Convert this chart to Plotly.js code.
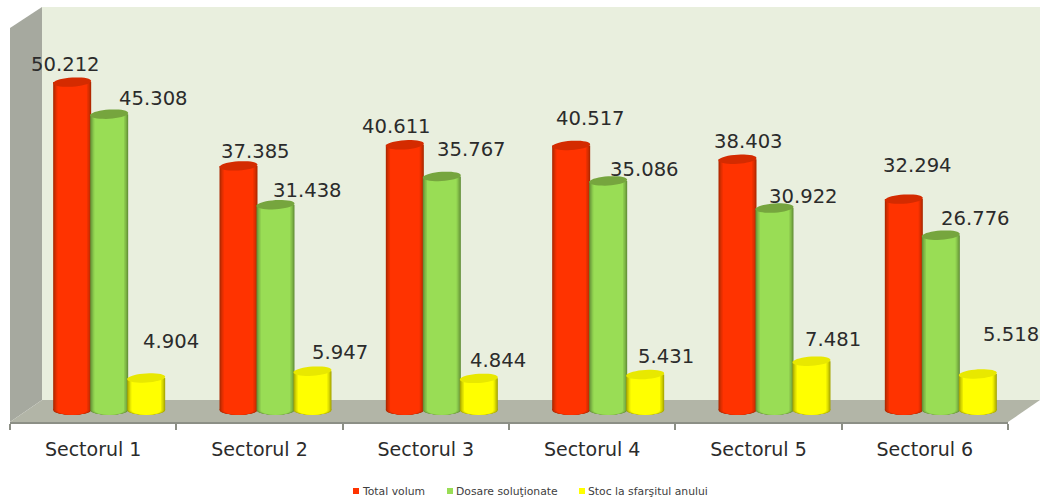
<!DOCTYPE html>
<html><head><meta charset="utf-8">
<script src="https://cdn.plot.ly/plotly-3.0.1.min.js"></script>
<style>html,body{margin:0;padding:0;background:#fff}#c{width:1048px;height:498px}</style>
</head><body><div id="c"></div>
<script>
const categories = ["Sectorul 1","Sectorul 2","Sectorul 3","Sectorul 4","Sectorul 5","Sectorul 6"];
const totalVolum = [50.212,37.385,40.611,40.517,38.403,32.294];
const dosareSolutionate = [45.308,31.438,35.767,35.086,30.922,26.776];
const stocSfarsit = [4.904,5.947,4.844,5.431,7.481,5.518];
const seriesNames = ["Total volum","Dosare soluţionate","Stoc la sfarşitul anului"];

// label nudges in px relative to each bar top: [right, up]
const labelNudgeTotal = [[-7,18],[17,14],[-8,18],[19,27],[11,18],[14,34]];
const labelNudgeDosare = [[44,16],[32,14],[30,27],[36,11],[29,12],[35,17]];
const labelNudgeStoc = [[25,36],[27,19],[19,18],[21,18],[21,22],[33,39]];

const W=1048,H=498,L=10,R=1008,T=7,B=422;
const PXU=6.53, BASEPX=410;
const px=x=>(x-L)/(R-L), py=y=>(B-y)/(B-T);
const catW=(R-L)/6, barW=38/catW;
const barOff=[-40/catW,-3/catW,34/catW];
const series=[
 {v:totalVolum,edge:[170,40,0],mid:[255,51,0],cap:[212,43,0],nudge:labelNudgeTotal},
 {v:dosareSolutionate,edge:[98,142,54],mid:[153,221,85],cap:[118,165,62],nudge:labelNudgeDosare},
 {v:stocSfarsit,edge:[165,165,0],mid:[255,255,0],cap:[232,232,0],nudge:labelNudgeStoc}
];
const levels=[1,0.96,0.91,0.85,0.78];
const mix=(a,b,t)=>`rgb(${a.map((c,i)=>Math.round(c+(b[i]-c)*t)).join(",")})`;

const traces=[],shapes=[],annotations=[];
const path=p=>p.map((q,i)=>(i?"L":"M")+px(q[0])+","+py(q[1])).join(" ")+" Z";
shapes.push({type:"path",xref:"paper",yref:"paper",layer:"below",line:{width:0},fillcolor:"#E9EFDE",path:path([[42,7],[1040,7],[1040,400],[42,400]])});
shapes.push({type:"path",xref:"paper",yref:"paper",layer:"below",line:{width:0},fillcolor:"#A6A99F",path:path([[10,28],[42,7],[42,400],[10,422]])});
shapes.push({type:"path",xref:"paper",yref:"paper",layer:"below",line:{width:0},fillcolor:"#B2B5A7",path:path([[10,422],[42,400],[1040,400],[1008,422]])});

const capR=4.6/PXU, botR=5/PXU, tilt=1.2/PXU;
function tiltedCap(cx,cy,a){
  let d="";
  for(let k=0;k<36;k++){
    const t=k/36*2*Math.PI, c=Math.cos(t), s=Math.sin(t);
    d+=(k?"L":"M")+(cx+a*c)+","+(cy+capR*s+tilt*c)+" ";
  }
  return d+"Z";
}
series.forEach((s,si)=>{
  levels.forEach((f,li)=>{
    const col=mix(s.edge,s.mid,li/(levels.length-1));
    const w=barW*f, off=barOff[si]+(barW-w)/2;
    traces.push({type:"bar",x:categories,y:s.v,width:w,offset:off,name:seriesNames[si],
      showlegend:false,hoverinfo:"skip",marker:{color:col,line:{width:0}}});
    s.v.forEach((v,i)=>{
      shapes.push({type:"circle",xref:"x",yref:"y",layer:"below",line:{width:0},fillcolor:col,
        x0:i+off,x1:i+off+w,y0:-botR,y1:botR});
    });
  });
  s.v.forEach((v,i)=>{
    shapes.push({type:"path",xref:"x",yref:"y",layer:"above",line:{width:0},fillcolor:mix(s.cap,s.cap,0),
      path:tiltedCap(i+barOff[si]+barW/2,v,barW/2)});
    annotations.push({xref:"x",yref:"y",x:i+barOff[si]+barW/2,y:v,xshift:s.nudge[i][0],yshift:s.nudge[i][1],
      text:v.toFixed(3),showarrow:false,xanchor:"center",yanchor:"middle",
      font:{family:"DejaVu Sans",size:19.6,color:"#2b2b2b"}});
  });
});

// legend row
const legendSwatchX=[353,447,579];
seriesNames.forEach((n,i)=>{
  shapes.push({type:"rect",xref:"paper",yref:"paper",layer:"above",line:{width:0},fillcolor:mix(series[i].mid,series[i].mid,0),
    x0:px(legendSwatchX[i]),x1:px(legendSwatchX[i]+6),y0:py(494),y1:py(488)});
  annotations.push({xref:"paper",yref:"paper",x:px(legendSwatchX[i]+9),y:py(491),text:n,showarrow:false,
    xanchor:"left",yanchor:"middle",font:{family:"DejaVu Sans",size:10.8,color:"#404040"},borderpad:0,borderwidth:0});
});

Plotly.newPlot("c",traces,{
  width:W,height:H,paper_bgcolor:"#fff",plot_bgcolor:"rgba(0,0,0,0)",showlegend:false,barmode:"overlay",
  margin:{l:L,r:W-R,t:T,b:H-B,pad:0},
  xaxis:{type:"category",categoryorder:"array",categoryarray:categories,tickson:"boundaries",ticks:"outside",ticklen:6,tickwidth:2,tickcolor:"#8C8F86",
    showline:true,linecolor:"#8C8F86",linewidth:2,showgrid:false,zeroline:false,range:[-0.5,5.5],fixedrange:true,
    tickfont:{family:"DejaVu Sans",size:19,color:"#2b2b2b"},ticklabelstandoff:9},
  yaxis:{visible:false,range:[(BASEPX-B)/PXU,(BASEPX-T)/PXU],showgrid:false,zeroline:false,fixedrange:true},
  shapes,annotations
},{displayModeBar:false,staticPlot:true});
</script></body></html>
